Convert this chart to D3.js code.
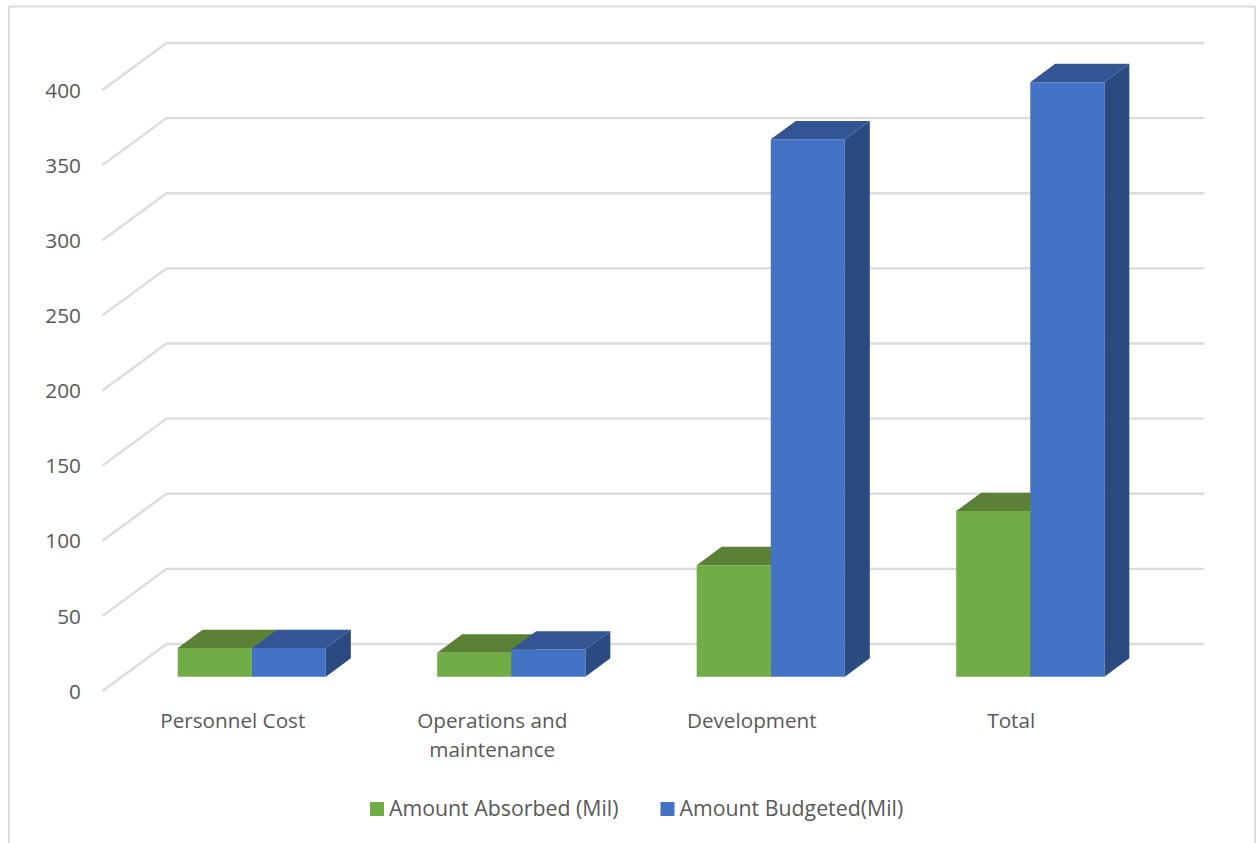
<!DOCTYPE html>
<html>
<head>
<meta charset="utf-8">
<script src="https://cdnjs.cloudflare.com/ajax/libs/d3/7.8.5/d3.min.js"></script>
<style>
  html, body { margin: 0; padding: 0; background: #fff; }
  svg { display: block; }
  text { font-family: "Open Sans", sans-serif; fill: #595959; }
</style>
</head>
<body>
<svg id="chart" width="1256" height="843"></svg>
<script>
// Amounts per budget line, in millions
const categories = ["Personnel Cost", "Operations and|maintenance", "Development", "Total"];
const absorbed = [19, 16, 74.2, 110.2];
const budgeted = [19, 18, 357.7, 395.7];
const seriesNames = ["Amount Absorbed (Mil)", "Amount Budgeted(Mil)"];
const yTicks = [0, 50, 100, 150, 200, 250, 300, 350, 400];

const palette = [
  { front: "#70ad47", top: "#5a8135", side: "#4f7a32" },
  { front: "#4472c4", top: "#335593", side: "#2a4a80" }
];
const gridColor = "#dcdcdc";

const svg = d3.select("#chart");

// Chart frame, open at the bottom edge
svg.append("path")
  .attr("d", "M9,843V6.5H1255V843")
  .attr("fill", "none")
  .attr("stroke", gridColor)
  .attr("stroke-width", 2);

// Front plane of the 3D box; the back wall is shifted by (wallDx, wallDy)
const wallDx = 64, wallDy = -47;
const x = d3.scaleBand().domain(categories).range([102.5, 1140.5]);
const y = d3.scaleLinear().domain([0, 400]).range([691, 90]);

// Gridlines: a diagonal across the side wall, then along the back wall
const line = d3.line();
svg.append("g").selectAll("path").data(yTicks).join("path")
  .attr("d", t => line([
    [x.range()[0], y(t)],
    [x.range()[0] + wallDx, y(t) + wallDy],
    [x.range()[1] + wallDx, y(t) + wallDy]
  ]))
  .attr("fill", "none")
  .attr("stroke", gridColor)
  .attr("stroke-width", 2.4);

// Bars sit in the middle of the floor's depth
const depth = 0.39;
const inset = (1 - depth) / 2;
const barDx = wallDx * depth, barDy = wallDy * depth;
const originDx = wallDx * inset, originDy = wallDy * inset;
const barWidth = x.bandwidth() * 0.2855;

function drawBar(g, cat, value, seriesIndex) {
  const colors = palette[seriesIndex];
  const x0 = x(cat) + x.bandwidth() / 2 + originDx + (seriesIndex - 1) * barWidth;
  const x1 = x0 + barWidth;
  const base = y(0) + originDy;
  const top = base - (y(0) - y(value));
  const poly = pts => g.append("path").attr("d", line(pts) + "Z");
  poly([[x1, base], [x1 + barDx, base + barDy], [x1 + barDx, top + barDy], [x1, top]]).attr("fill", colors.side);
  poly([[x0, top], [x0 + barDx, top + barDy], [x1 + barDx, top + barDy], [x1, top]]).attr("fill", colors.top);
  poly([[x0, base], [x1, base], [x1, top], [x0, top]]).attr("fill", colors.front);
}

const bars = svg.append("g");
categories.forEach((cat, i) => {
  drawBar(bars, cat, absorbed[i], 0);
  drawBar(bars, cat, budgeted[i], 1);
});

// Value axis labels
const yAxis = svg.append("g")
  .attr("transform", "translate(81,0.5)")
  .call(d3.axisLeft(y).tickValues(yTicks).tickSize(0).tickPadding(0));
yAxis.select(".domain").remove();
yAxis.selectAll("text").attr("font-size", 20.8).style("font-family", '"Open Sans", sans-serif').attr("fill", "#595959");

// Category axis labels, which may run over two lines
const xAxis = svg.append("g")
  .attr("transform", "translate(0.5,700)")
  .call(d3.axisBottom(x).tickSize(0).tickPadding(0).tickFormat(""));
xAxis.select(".domain").remove();
xAxis.selectAll(".tick text").each(function (d) {
  const t = d3.select(this).attr("y", 0).attr("dy", null)
    .attr("font-size", 20.7).style("font-family", '"Open Sans", sans-serif').attr("fill", "#595959");
  d.split("|").forEach((part, i) => {
    t.append("tspan").attr("x", 0).attr("y", 29 * i + 28).text(part);
  });
});

// Legend
const legendX = [370, 660.5];
const legend = svg.append("g").selectAll("g").data(seriesNames).join("g")
  .attr("transform", (d, i) => `translate(${legendX[i]},802)`);
legend.append("rect")
  .attr("width", 14).attr("height", 14)
  .attr("fill", (d, i) => palette[i].front);
legend.append("text")
  .attr("x", 19).attr("y", 13.5)
  .attr("font-size", 21.3)
  .text(d => d);
</script>
</body>
</html>
